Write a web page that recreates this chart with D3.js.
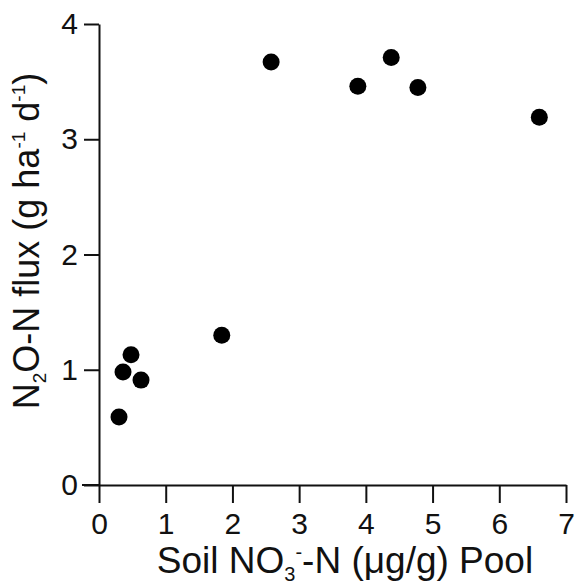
<!DOCTYPE html>
<html lang="en">
<head>
<meta charset="utf-8">
<title>N2O flux vs soil nitrate</title>
<script src="https://cdn.jsdelivr.net/npm/d3@7"></script>
<style>
  body { margin: 0; background: #fff; }
  text { font-family: "Liberation Sans", Arial, sans-serif; fill: #111; }
</style>
</head>
<body>
<script>
// soil NO3-N pool (ug/g) and N2O-N flux (g ha-1 d-1)
var nitrate = [0.30, 0.36, 0.48, 0.63, 1.84, 2.58, 3.88, 4.38, 4.78, 6.60];
var flux    = [0.59, 0.98, 1.13, 0.91, 1.30, 3.67, 3.46, 3.71, 3.45, 3.19];
var xTicks = [0, 1, 2, 3, 4, 5, 6, 7];
var yTicks = [0, 1, 2, 3, 4];

var w = 575, h = 583;
var padL = 99, padR = 566, padT = 24, padB = 485;

var xScale = d3.scaleLinear().domain([0, 7]).range([padL, padR]);
var yScale = d3.scaleLinear().domain([0, 4]).range([padB, padT]);

var svg = d3.select("body").append("svg")
  .attr("width", w)
  .attr("height", h);

var xAxis = svg.append("g")
  .attr("transform", "translate(0," + padB + ")")
  .call(d3.axisBottom(xScale).tickValues(xTicks).tickFormat(d3.format("d"))
    .tickSize(18).tickPadding(10).tickSizeOuter(0));

var yAxis = svg.append("g")
  .attr("transform", "translate(" + padL + ",0)")
  .call(d3.axisLeft(yScale).tickValues(yTicks).tickFormat(d3.format("d"))
    .tickSize(15).tickPadding(6).tickSizeOuter(0));

[xAxis, yAxis].forEach(function(g) {
  g.selectAll("path").attr("stroke", "#111").attr("stroke-width", 2);
  g.selectAll("line").attr("stroke", "#111").attr("stroke-width", 2);
  g.selectAll("text").attr("font-size", "30px").attr("fill", "#111")
    .attr("font-family", "Liberation Sans, Arial, sans-serif");
});
// x axis runs a little past the y axis, as in the original
xAxis.append("line").attr("x1", padL - 17).attr("x2", padL)
  .attr("stroke", "#111").attr("stroke-width", 2);

// x title
var xt = svg.append("text")
  .attr("x", 345)
  .attr("y", 573)
  .attr("text-anchor", "middle")
  .attr("font-size", "37px");
xt.append("tspan").text("Soil NO");
xt.append("tspan").attr("font-size", "20px").attr("dy", 8).text("3");
xt.append("tspan").attr("font-size", "20px").attr("dy", -22).text("-");
xt.append("tspan").attr("dy", 14).text("-N (\u03bcg/g) Pool");

// y title
var yt = svg.append("text")
  .attr("transform", "translate(39,241) rotate(-90)")
  .attr("text-anchor", "middle")
  .attr("font-size", "36px");
yt.append("tspan").text("N");
yt.append("tspan").attr("font-size", "19px").attr("dy", 7).text("2");
yt.append("tspan").attr("dy", -7).text("O-N flux (g ha");
yt.append("tspan").attr("font-size", "19px").attr("dy", -14).text("-1");
yt.append("tspan").attr("dy", 14).text(" d");
yt.append("tspan").attr("font-size", "19px").attr("dy", -14).text("-1");
yt.append("tspan").attr("dy", 14).text(")");

svg.selectAll("circle")
  .data(nitrate)
  .enter()
  .append("circle")
  .attr("cx", function(d) { return xScale(d); })
  .attr("cy", function(d, i) { return yScale(flux[i]); })
  .attr("r", 8.5)
  .attr("fill", "#000");
</script>
</body>
</html>
